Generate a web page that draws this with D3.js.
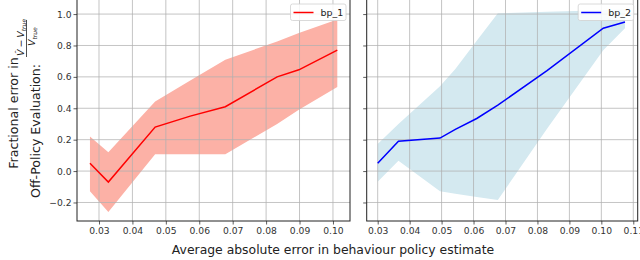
<!DOCTYPE html>
<html>
<head>
<meta charset="utf-8">
<script src="https://cdn.jsdelivr.net/npm/d3@7"></script>
<style>
  body { margin: 0; background: #fff; }
  svg { font-family: 'DejaVu Sans', sans-serif; }
</style>
</head>
<body>
<div id="chart"></div>
<script>
// data
var xBp1 = [0.0273, 0.0328, 0.0468, 0.0573, 0.0678, 0.0833, 0.0898, 0.1013]
var meanBp1 = [0.05, -0.07, 0.28, 0.35, 0.41, 0.60, 0.645, 0.77]
var upperBp1 = [0.22, 0.12, 0.443, 0.577, 0.709, 0.826, 0.88, 0.965]
var lowerBp1 = [-0.128, -0.26, 0.107, 0.107, 0.107, 0.30, 0.39, 0.535]

var xBp2 = [0.030, 0.0365, 0.0495, 0.0543, 0.061, 0.0676, 0.083, 0.1006, 0.1074]
var meanBp2 = [0.05, 0.19, 0.21, 0.266, 0.335, 0.42, 0.64, 0.91, 0.95]
var upperBp2 = [0.172, 0.30, 0.54, 0.65, 0.83, 1.005, 1.015, 1.025, 1.03]
var lowerBp2 = [-0.068, 0.066, -0.128, -0.145, -0.165, -0.185, 0.27, 0.77, 0.91]

var xTicks1 = [0.03, 0.04, 0.05, 0.06, 0.07, 0.08, 0.09, 0.10]
var xTicks2 = [0.03, 0.04, 0.05, 0.06, 0.07, 0.08, 0.09, 0.10, 0.11]
var yTicks = [-0.2, 0.0, 0.2, 0.4, 0.6, 0.8, 1.0]

var width = 640
var height = 260

var svg = d3
  .select('#chart')
  .append('svg')
  .attr('width', width)
  .attr('height', height)

// shared y scale
var y = d3.scaleLinear().domain([-0.318, 1.096]).range([221, -1])

var panels = [
  {
    name: 'bp_1',
    xs: xBp1, mean: meanBp1, upper: upperBp1, lower: lowerBp1,
    ticks: xTicks1,
    x: d3.scaleLinear().domain([0.02342, 0.1051]).range([77, 350]),
    line: '#ff0000', fill: '#fcb1a6', yLabels: true
  },
  {
    name: 'bp_2',
    xs: xBp2, mean: meanBp2, upper: upperBp2, lower: lowerBp2,
    ticks: xTicks2,
    x: d3.scaleLinear().domain([0.02656, 0.11138]).range([366.7, 637.7]),
    line: '#0000ff', fill: '#d4e9f0', yLabels: false
  }
]

panels.forEach(function (p, pi) {
  var x = p.x
  var x0 = x.range()[0], x1 = x.range()[1]
  var y0 = y.range()[1], y1 = y.range()[0]
  var g = svg.append('g')

  g.append('clipPath')
    .attr('id', 'clip-' + pi)
    .append('rect')
    .attr('x', x0).attr('y', y0)
    .attr('width', x1 - x0).attr('height', y1 - y0)

  var rows = p.xs.map(function (v, i) {
    return { x: v, m: p.mean[i], lo: p.lower[i], hi: p.upper[i] }
  })

  // band
  g.append('path')
    .datum(rows)
    .attr('clip-path', 'url(#clip-' + pi + ')')
    .attr('fill', p.fill)
    .attr('d', d3.area().x(d => x(d.x)).y0(d => y(d.lo)).y1(d => y(d.hi)))

  // grid
  g.append('g')
    .selectAll('line.vg')
    .data(p.ticks)
    .enter()
    .append('line')
    .attr('x1', d => x(d)).attr('x2', d => x(d))
    .attr('y1', y0).attr('y2', y1)
    .attr('stroke', '#b0b0b0').attr('stroke-opacity', 0.75).attr('stroke-width', 1)
  g.append('g')
    .selectAll('line.hg')
    .data(yTicks)
    .enter()
    .append('line')
    .attr('x1', x0).attr('x2', x1)
    .attr('y1', d => y(d)).attr('y2', d => y(d))
    .attr('stroke', '#b0b0b0').attr('stroke-opacity', 0.75).attr('stroke-width', 1)

  // mean line
  g.append('path')
    .datum(rows)
    .attr('clip-path', 'url(#clip-' + pi + ')')
    .attr('fill', 'none')
    .attr('stroke', p.line)
    .attr('stroke-width', 1.5)
    .attr('d', d3.line().x(d => x(d.x)).y(d => y(d.m)))

  // axes
  var xa = g.append('g')
    .attr('transform', 'translate(0,' + y1 + ')')
    .call(d3.axisBottom(x).tickValues(p.ticks).tickSize(3.5).tickPadding(3).tickFormat(d3.format('.2f')))
  var ya = g.append('g')
    .attr('transform', 'translate(' + x0 + ',0)')
    .call(d3.axisLeft(y).tickValues(yTicks).tickSize(3.5).tickPadding(2)
      .tickFormat(p.yLabels ? d3.format('.1f') : ''))
  ;[xa, ya].forEach(function (a) {
    a.select('.domain').remove()
    a.selectAll('.tick line').attr('stroke', '#333').attr('stroke-width', 0.8)
    a.selectAll('.tick text').attr('fill', '#333').attr('font-size', 9.2)
      .attr('font-family', "'DejaVu Sans', sans-serif")
  })

  // spines
  g.append('rect')
    .attr('x', x0).attr('y', y0)
    .attr('width', x1 - x0).attr('height', y1 - y0)
    .attr('fill', 'none').attr('stroke', '#222').attr('stroke-width', 1)

  // legend
  var lw = 55.5, lh = 16.5
  var lg = g.append('g').attr('transform', 'translate(' + (x1 - 4 - lw) + ',4)')
  lg.append('rect')
    .attr('width', lw).attr('height', lh).attr('rx', 2)
    .attr('fill', '#fff').attr('fill-opacity', 0.85)
    .attr('stroke', '#d0d0d0').attr('stroke-width', 0.8)
  lg.append('line')
    .attr('x1', 3).attr('x2', 23).attr('y1', 8.5).attr('y2', 8.5)
    .attr('stroke', p.line).attr('stroke-width', 1.5)
  lg.append('text')
    .attr('x', 30).attr('y', 12)
    .attr('font-size', 9.5).attr('fill', '#222')
    .text(p.name)
})

// x axis label
svg.append('text')
  .attr('x', 333).attr('y', 254)
  .attr('text-anchor', 'middle')
  .attr('font-size', 12.4).attr('fill', '#222')
  .text('Average absolute error in behaviour policy estimate')

// y axis label (rotated)
var yl = svg.append('g').attr('transform', 'rotate(-90)').attr('fill', '#222')
yl.append('text')
  .attr('x', -113).attr('y', 18)
  .attr('text-anchor', 'middle')
  .attr('font-size', 12.6)
  .text('Fractional error in')
yl.append('text')
  .attr('x', -198).attr('y', 40)
  .attr('font-size', 12.6)
  .text('Off-Policy Evaluation:')
var num = yl.append('text')
  .attr('x', -56).attr('y', 24)
  .attr('font-size', 9.5)
num.append('tspan').attr('font-style', 'italic').text('V\u0302')
num.append('tspan').text('\u2009\u2212\u2009')
num.append('tspan').attr('font-style', 'italic').text('V')
num.append('tspan').attr('font-style', 'italic').attr('font-size', 6).attr('dy', 2).text('true')
yl.append('line')
  .attr('x1', -57).attr('x2', -20).attr('y1', 26.5).attr('y2', 26.5)
  .attr('stroke', '#222').attr('stroke-width', 0.8)
var den = yl.append('text')
  .attr('x', -46).attr('y', 34.5)
  .attr('font-size', 9.5)
den.append('tspan').attr('font-style', 'italic').text('V')
den.append('tspan').attr('font-style', 'italic').attr('font-size', 6).attr('dy', 2).text('true')
</script>
</body>
</html>
